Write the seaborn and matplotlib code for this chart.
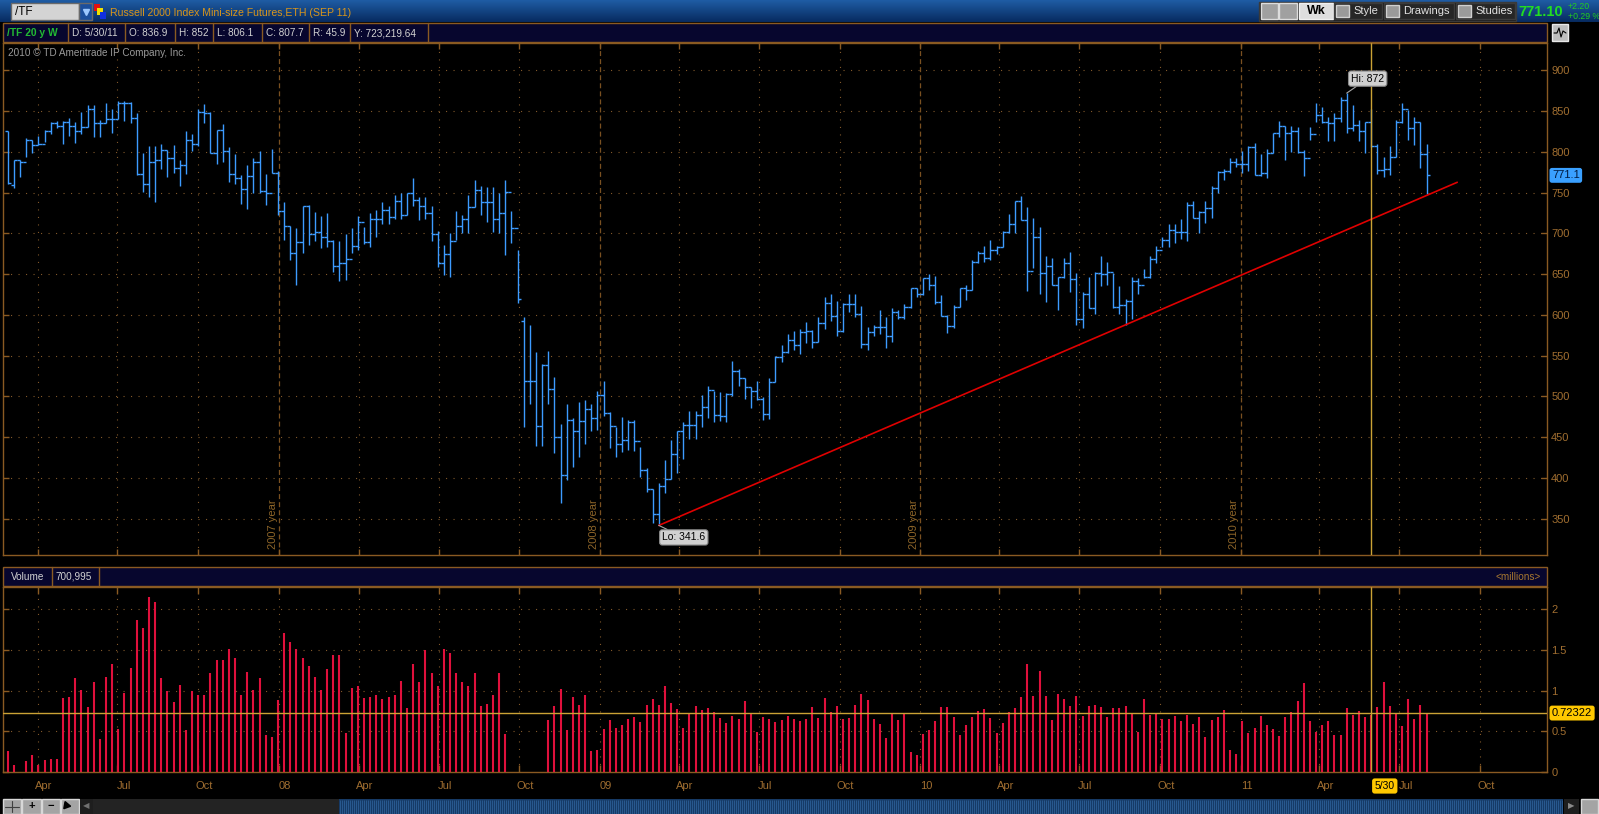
import numpy as np
import pandas as pd
import matplotlib
matplotlib.use("Agg")
import matplotlib.pyplot as plt
import matplotlib.dates as mdates
import matplotlib.transforms as mtransforms
from matplotlib.patches import Rectangle
import seaborn as sns

# ---------------- data (weekly bars, /TF Russell 2000 mini futures) ----------------
first_week = "2007-02-26"

highs = [825, 790, 790, 817, 815, 819, 827, 836, 838, 838,
         841, 837, 849, 858, 857, 839, 860, 853, 862, 862,
         861, 847, 798, 807, 807, 809, 802, 808, 790, 825,
         822, 853, 859, 849, 827, 834, 806, 797, 772, 784,
         792, 801, 773, 804, 777, 739, 709, 706, 734, 735,
         726, 721, 725, 692, 691, 699, 706, 721, 708, 725,
         729, 738, 733, 747, 749, 750, 768, 745, 744, 733,
         703, 686, 700, 727, 723, 747, 765, 758, 757, 757,
         750, 765, 727, 680, 597, 588, 554, 540, 555, 524,
         466, 491, 474, 493, 495, 490, 507, 519, 481, 462,
         475, 471, 471, 438, 412, 386, 394, 422, 446, 458,
         468, 482, 482, 502, 513, 506, 505, 504, 543, 533,
         522, 512, 519, 499, 523, 549, 563, 576, 580, 583,
         591, 581, 597, 622, 625, 617, 614, 625, 625, 611,
         585, 588, 606, 597, 608, 606, 613, 633, 633, 645,
         650, 648, 624, 600, 612, 633, 636, 667, 678, 684,
         692, 685, 703, 724, 740, 746, 732, 719, 708, 672,
         670, 647, 670, 677, 651, 628, 646, 653, 672, 665,
         651, 635, 619, 646, 645, 656, 672, 685, 696, 712,
         711, 717, 738, 740, 727, 740, 758, 777, 779, 792,
         792, 801, 807, 811, 797, 803, 823, 838, 832, 832,
         831, 802, 831, 860, 855, 843, 847, 867, 872, 858,
         839, 837, 852, 810, 794, 807, 839, 860, 851, 843,
         836, 810]

lows = [761, 755, 769, 794, 799, 808, 812, 822, 829, 810,
        819, 811, 822, 831, 818, 818, 835, 823, 840, 838,
        835, 772, 751, 745, 738, 779, 769, 774, 758, 773,
        801, 807, 835, 798, 785, 788, 763, 760, 736, 730,
        750, 750, 735, 774, 722, 692, 667, 637, 676, 686,
        690, 682, 683, 653, 642, 643, 676, 680, 687, 683,
        696, 712, 712, 718, 718, 723, 733, 716, 717, 691,
        659, 649, 647, 692, 700, 700, 732, 723, 714, 702,
        700, 673, 688, 614, 462, 490, 439, 439, 491, 430,
        369, 397, 413, 425, 441, 458, 459, 476, 437, 426,
        432, 434, 433, 401, 383, 345, 341.6, 381, 399, 406,
        423, 448, 448, 462, 474, 469, 470, 469, 500, 513,
        497, 486, 495, 471, 472, 517, 542, 553, 557, 552,
        565, 559, 567, 583, 593, 574, 579, 604, 597, 559,
        557, 574, 577, 559, 567, 595, 595, 608, 622, 624,
        631, 613, 598, 578, 584, 610, 618, 630, 663, 665,
        667, 675, 683, 700, 700, 716, 629, 658, 626, 616,
        636, 606, 645, 628, 587, 584, 608, 601, 635, 636,
        608, 601, 588, 595, 626, 645, 645, 663, 683, 683,
        688, 693, 691, 719, 700, 713, 719, 750, 765, 774,
        781, 774, 776, 771, 770, 768, 798, 818, 790, 800,
        799, 770, 815, 836, 835, 813, 813, 837, 823, 825,
        813, 799, 806, 773, 769, 771, 794, 835, 815, 808,
        780, 748]

closes = [762, 790, 787, 815, 808, 810, 826, 835, 832, 836,
          832, 826, 831, 853, 835, 835, 840, 840, 860, 860,
          841, 773, 760, 788, 790, 802, 792, 780, 784, 815,
          810, 849, 848, 798, 827, 801, 773, 768, 754, 770,
          787, 752, 750, 774, 727, 709, 676, 689, 733, 699,
          701, 695, 690, 660, 663, 669, 685, 714, 689, 717,
          718, 728, 720, 740, 723, 749, 741, 734, 725, 699,
          664, 674, 691, 709, 717, 732, 753, 738, 738, 718,
          725, 751, 707, 620, 519, 519, 464, 538, 509, 450,
          403, 471, 457, 470, 484, 473, 502, 480, 464, 441,
          446, 468, 445, 410, 386, 356, 390, 399, 429, 457,
          465, 465, 477, 487, 508, 477, 476, 503, 531, 523,
          511, 507, 497, 478, 518, 548, 554, 569, 563, 579,
          580, 567, 590, 615, 598, 580, 613, 613, 601, 564,
          579, 585, 585, 574, 604, 597, 610, 633, 625, 645,
          637, 616, 599, 586, 610, 633, 630, 665, 676, 670,
          679, 683, 702, 712, 740, 716, 654, 695, 651, 660,
          636, 646, 663, 644, 595, 625, 608, 651, 650, 652,
          609, 612, 617, 642, 637, 646, 668, 679, 692, 704,
          702, 702, 735, 719, 726, 731, 756, 775, 777, 788,
          785, 785, 806, 772, 774, 798, 823, 832, 823, 826,
          800, 793, 822, 845, 837, 835, 841, 864, 829, 833,
          826, 837, 807.7, 778, 779, 794, 837, 852, 829, 837,
          797, 771.1]

opens = [825, 759, 790, 787, 815, 808, 810, 826, 835, 832,
         836, 832, 826, 831, 853, 835, 835, 840, 840, 860,
         860, 841, 773, 760, 788, 790, 802, 792, 780, 784,
         815, 810, 849, 848, 798, 827, 801, 773, 768, 754,
         770, 787, 752, 750, 774, 727, 709, 676, 689, 733,
         699, 701, 695, 690, 660, 663, 669, 685, 714, 689,
         717, 718, 728, 720, 740, 723, 749, 741, 734, 725,
         699, 664, 674, 691, 709, 717, 732, 753, 738, 738,
         718, 725, 751, 707, 593, 519, 519, 464, 538, 509,
         450, 403, 471, 457, 470, 484, 473, 502, 480, 464,
         441, 446, 468, 445, 410, 386, 356, 390, 399, 429,
         457, 465, 465, 477, 487, 508, 477, 476, 503, 531,
         523, 511, 507, 497, 478, 518, 548, 554, 569, 563,
         579, 580, 567, 590, 615, 598, 580, 613, 613, 601,
         564, 579, 585, 585, 574, 604, 597, 610, 633, 625,
         645, 637, 616, 599, 586, 610, 633, 630, 665, 676,
         670, 679, 683, 702, 712, 740, 716, 654, 695, 651,
         660, 636, 646, 663, 644, 595, 625, 608, 651, 650,
         652, 609, 612, 617, 642, 637, 646, 668, 679, 692,
         704, 702, 702, 735, 719, 726, 731, 756, 775, 777,
         788, 785, 785, 806, 772, 774, 798, 823, 832, 823,
         826, 800, 793, 822, 845, 837, 835, 841, 864, 829,
         833, 826, 836.9, 807.7, 778, 779, 794, 837, 852, 829,
         837, 797]

# volume in millions (0 = no bar drawn)
volume = [0.26, 0.09, 0.0, 0.13, 0.21, 0.09, 0.15, 0.16, 0.16, 0.91,
          0.92, 1.15, 1.01, 0.80, 1.11, 0.41, 1.17, 1.32, 0.53, 0.97,
          1.27, 1.86, 1.77, 2.15, 2.08, 1.15, 1.00, 0.86, 1.07, 0.51,
          0.99, 0.95, 0.95, 1.22, 1.38, 1.37, 1.51, 1.40, 0.94, 1.23,
          1.01, 1.15, 0.46, 0.43, 0.88, 1.71, 1.60, 1.51, 1.40, 1.30,
          1.16, 1.01, 1.26, 1.43, 1.44, 0.48, 1.03, 1.06, 0.91, 0.92,
          0.95, 0.90, 0.92, 0.94, 1.12, 0.79, 1.33, 1.10, 1.50, 1.21,
          1.06, 1.51, 1.46, 1.21, 1.11, 1.05, 1.21, 0.81, 0.84, 0.94,
          1.21, 0.47,
          0.0, 0.0, 0.0, 0.0, 0.0, 0.0,
          0.64, 0.81, 1.02, 0.52, 0.92, 0.82, 0.94, 0.26, 0.27, 0.53,
          0.64, 0.54, 0.58, 0.65, 0.67, 0.61, 0.82, 0.89, 0.82, 1.05,
          0.85, 0.77, 0.54, 0.72, 0.81, 0.76, 0.78, 0.74, 0.66, 0.60,
          0.69, 0.65, 0.87, 0.71, 0.49, 0.67, 0.65, 0.61, 0.64, 0.69,
          0.65, 0.63, 0.65, 0.80, 0.66, 0.91, 0.74, 0.81, 0.65, 0.66,
          0.82, 0.96, 0.88, 0.65, 0.59, 0.42, 0.72, 0.64, 0.72, 0.25,
          0.21, 0.47, 0.52, 0.63, 0.80, 0.80, 0.67, 0.46, 0.58, 0.67,
          0.75, 0.77, 0.66, 0.48, 0.60, 0.74, 0.78, 0.92, 1.32, 0.93,
          1.24, 0.93,
          0.64, 0.96, 0.89, 0.81, 0.93, 0.69, 0.81, 0.82, 0.80, 0.68,
          0.78, 0.78, 0.81, 0.73, 0.49, 0.90, 0.70, 0.73, 0.65, 0.65,
          0.69, 0.63, 0.70, 0.59, 0.67, 0.43, 0.64, 0.67, 0.76, 0.27,
          0.22, 0.62, 0.48, 0.54, 0.69, 0.58, 0.53, 0.44, 0.67, 0.74,
          0.87, 1.09, 0.62, 0.49, 0.58, 0.62, 0.46, 0.46, 0.78, 0.70,
          0.75, 0.68, 0.70, 0.80, 1.11, 0.81, 0.71, 0.56, 0.89, 0.65,
          0.82, 0.73]

trend_dates = ["2009-03-09", "2011-09-05"]
trend_prices = [341.6, 762.6]

tick_months = ["2007-04-01", "2007-07-01", "2007-10-01", "2008-01-01",
               "2008-04-01", "2008-07-01", "2008-10-01", "2009-01-01",
               "2009-04-01", "2009-07-01", "2009-10-01", "2010-01-01",
               "2010-04-01", "2010-07-01", "2010-10-01", "2011-01-01",
               "2011-04-01", "2011-07-01", "2011-10-01"]
tick_labels = ["Apr", "Jul", "Oct", "08", "Apr", "Jul", "Oct", "09",
               "Apr", "Jul", "Oct", "10", "Apr", "Jul", "Oct", "11",
               "Apr", "Jul", "Oct"]
year_lines = ["2008-01-01", "2009-01-01", "2010-01-01", "2011-01-01"]
year_texts = ["2007 year", "2008 year", "2009 year", "2010 year"]
price_ticks = [350, 400, 450, 500, 550, 600, 650, 700, 750, 800, 850, 900]
vol_ticks = [0, 0.5, 1, 1.5, 2]
vol_tick_labels = ["0", "0.5", "1", "1.5", "2"]
cursor_date = "2011-05-30"
cursor_volume = 0.72322
last_price = 771.1

# ---------------- style ----------------
sns.set_style("dark", {"axes.facecolor": "black", "figure.facecolor": "black"})
plt.rcParams['font.family'] = ['Liberation Sans', 'DejaVu Sans']
plt.rcParams['lines.scale_dashes'] = False

BLUE = '#3d9bff'
RED = '#e0103c'
BROWN = '#8a5a22'
GRID = '#80582a'
TXT = '#a06e30'
YEL = '#cba235'
NAVY = '#07062e'
LT = '#d2d2d2'
DOT = (0, (0.8, 4.6))

W, H = 1599, 814
fig = plt.figure(figsize=(W / 100, H / 100), dpi=100, facecolor='black')


def fy(px):
    return 1 - px / H


ax_p = fig.add_axes([3 / W, fy(555), 1544 / W, 512 / H])
ax_v = fig.add_axes([3 / W, fy(772), 1544 / W, 185 / H])

n = min(len(highs), len(lows), len(closes), len(opens), len(volume))
dates = pd.date_range(first_week, periods=n, freq='W-MON')
x = mdates.date2num(dates)
hi = np.array(highs[:n], float)
lo = np.array(lows[:n], float)
cl = np.array(closes[:n], float)
op = np.array(opens[:n], float)
vol = np.array(volume[:n], float)

origin = mdates.date2num(pd.Timestamp("2008-01-01"))
xlim = (origin - 314.4, origin + 1445.3)
tick_x = mdates.date2num(pd.to_datetime(tick_months))
year_x = mdates.date2num(pd.to_datetime(year_lines))
cur_x = mdates.date2num(pd.Timestamp(cursor_date))

for ax in (ax_p, ax_v):
    ax.set_facecolor('black')
    for s in ax.spines.values():
        s.set_color(BROWN)
        s.set_linewidth(1.0)
        s.set_visible(True)
    ax.set_xlim(*xlim)
    ax.set_xticks(tick_x)
    ax.set_xticklabels([])
    ax.grid(False)

# ---------- price panel ----------
for p in price_ticks:
    ax_p.axhline(p, color=GRID, lw=0.8, ls=DOT, zorder=0)
for tx in tick_x:
    if any(abs(tx - yx) < 1 for yx in year_x):
        ax_p.axvline(tx, color='#7a5020', lw=0.9, ls=(0, (3.6, 2.2)), zorder=0)
    else:
        ax_p.axvline(tx, color=GRID, lw=0.8, ls=DOT, zorder=0)

blend_p = mtransforms.blended_transform_factory(ax_p.transData, ax_p.transAxes)
for yx, t in zip(year_x, year_texts):
    ax_p.text(yx - 1.5, 0.012, t, rotation=90, ha='right', va='bottom',
              transform=blend_p, color='#8c6428', fontsize=8)

tick_len = 3.5
ax_p.vlines(x, lo, hi, color=BLUE, lw=1.0, zorder=3)
ax_p.hlines(op, x - tick_len, x, color=BLUE, lw=1.0, zorder=3)
ax_p.hlines(cl, x, x + tick_len, color=BLUE, lw=1.0, zorder=3)

trend = pd.DataFrame({"date": mdates.date2num(pd.to_datetime(trend_dates)),
                      "price": trend_prices})
sns.lineplot(data=trend, x="date", y="price", ax=ax_p, color='#e00000', lw=1.2, zorder=4)
ax_p.set_xlabel('')
ax_p.set_ylabel('')

ax_p.axvline(cur_x, color=YEL, lw=1.0, zorder=5)

ax_p.set_ylim(305.3, 933.5)
ax_p.set_xlim(*xlim)
ax_p.set_yticks(price_ticks)
ax_p.set_yticklabels([str(p) for p in price_ticks])
ax_p.yaxis.set_ticks_position('both')
ax_p.tick_params(axis='y', direction='in', length=4, width=1, colors=BROWN,
                 labelleft=False, labelright=True, labelsize=8, labelcolor=TXT, pad=3)
ax_p.tick_params(axis='x', direction='in', length=4, width=1, colors=BROWN,
                 top=True, bottom=True, labelbottom=False)

ih = int(np.argmax(hi))
il = int(np.argmin(lo))
ax_p.annotate(f"Hi: {hi[ih]:g}", xy=(x[ih], hi[ih]), xytext=(21, 14.5),
              textcoords='offset pixels', ha='center', va='center', fontsize=7.5,
              color='black', zorder=8,
              bbox=dict(boxstyle='round,pad=0.25', fc='#d0d0d0', ec='#8a8a8a', lw=0.8),
              arrowprops=dict(arrowstyle='-', color='#a8a8a8', lw=0.8, shrinkA=0, shrinkB=0))
ax_p.annotate(f"Lo: {lo[il]:g}", xy=(x[il], lo[il]), xytext=(25, -12),
              textcoords='offset pixels', ha='center', va='center', fontsize=7.5,
              color='black', zorder=8, annotation_clip=False,
              bbox=dict(boxstyle='round,pad=0.25', fc='#d0d0d0', ec='#8a8a8a', lw=0.8),
              arrowprops=dict(arrowstyle='-', color='#a8a8a8', lw=0.8, shrinkA=0, shrinkB=0))

ax_p.text(1.0032, last_price, f"{last_price:g}", transform=mtransforms.blended_transform_factory(
    ax_p.transAxes, ax_p.transData), ha='left', va='center', fontsize=8, color='#001a40',
    bbox=dict(boxstyle='round,pad=0.22', fc='#3aa0ff', ec='none'), clip_on=False, zorder=9)

# ---------- volume panel ----------
for v in vol_ticks[1:]:
    ax_v.axhline(v, color=GRID, lw=0.8, ls=DOT, zorder=0)
for tx in tick_x:
    ax_v.axvline(tx, color=GRID, lw=0.8, ls=DOT, zorder=0)

m = vol > 0
ax_v.vlines(x[m], 0, vol[m], color=RED, lw=1.5, zorder=3)
ax_v.axhline(cursor_volume, color=YEL, lw=1.0, zorder=4)
ax_v.axvline(cur_x, color=YEL, lw=1.0, zorder=4)

ax_v.set_ylim(0, 2.27)
ax_v.set_xlim(*xlim)
ax_v.set_yticks(vol_ticks)
ax_v.set_yticklabels(vol_tick_labels)
ax_v.yaxis.set_ticks_position('both')
ax_v.tick_params(axis='y', direction='in', length=4, width=1, colors=BROWN,
                 labelleft=False, labelright=True, labelsize=8, labelcolor=TXT, pad=3)
ax_v.tick_params(axis='x', direction='in', length=5, width=1, colors=BROWN,
                 top=True, bottom=True, labelbottom=False)

blend_v = mtransforms.blended_transform_factory(ax_v.transData, ax_v.transAxes)
for tx, lab in zip(tick_x, tick_labels):
    ax_v.text(tx + 7, -0.0757, lab, transform=blend_v, ha='center', va='center',
              fontsize=8, color=TXT, clip_on=False)
ax_v.text(cur_x + 15.4, -0.0757, cursor_date[5:7].lstrip('0') + "/" + cursor_date[8:10],
          transform=blend_v, ha='center', va='center', fontsize=7.5, color='black',
          bbox=dict(boxstyle='round,pad=0.25', fc='#ffc800', ec='none'), clip_on=False, zorder=9)
ax_v.text(1.0032, cursor_volume, f"{cursor_volume:.5f}", transform=mtransforms.blended_transform_factory(
    ax_v.transAxes, ax_v.transData), ha='left', va='center', fontsize=8, color='black',
    bbox=dict(boxstyle='round,pad=0.22', fc='#ffc800', ec='none'), clip_on=False, zorder=9)

# ---------------- UI chrome (pixel space overlay) ----------------
ui = fig.add_axes([0, 0, 1, 1], zorder=10)
ui.patch.set_alpha(0)
ui.axis('off')


def box(x0, y0, x1, y1, fc, ec='none', lw=1.0, z=1):
    ui.add_patch(Rectangle((x0, y0), x1 - x0, y1 - y0, facecolor=fc, edgecolor=ec, lw=lw, zorder=z))


def txt(xx, yy, s, **kw):
    kw.setdefault('va', 'center')
    kw.setdefault('fontsize', 7.2)
    kw.setdefault('color', LT)
    ui.text(xx, yy, s, **kw)


grad = np.linspace(0, 1, 22)[:, None, None]
top_c = np.array([0.12, 0.36, 0.64])
bot_c = np.array([0.03, 0.17, 0.38])
img = top_c * (1 - grad) + bot_c * grad
img = np.repeat(img, 2, axis=1)
ui.imshow(img, extent=[0, W, 22, 0], aspect='auto', zorder=0, interpolation='bilinear')

# ticker box
box(11, 3, 79, 20, '#d4d4d4', '#6a6a6a')
txt(15, 11.8, "/TF", fontsize=8.5, color='black')
box(79, 3, 92, 20, '#1c4f9c', '#6a6a6a')
ui.plot([85.5], [12], marker='v', ms=5, color='#9cc8ff', zorder=3)
box(94, 4, 100, 11, '#e01010', z=2)
box(97, 8, 103, 15, '#f0e000', z=3)
box(100, 12, 106, 19, '#1030e0', z=4)
txt(110, 12.5, "Russell 2000 Index Mini-size Futures,ETH (SEP 11)", color='#d8951c', fontsize=7.6)

# right toolbar
box(1259, 2, 1516, 21, '#1a1a1a', '#3a3a3a')
box(1261, 3, 1278, 19, '#a0a0a0', '#dddddd')
box(1279, 3, 1297, 19, '#a0a0a0', '#dddddd')
box(1299, 3, 1333, 19, '#dedede', '#f0f0f0')
txt(1316, 11.5, "Wk", ha='center', color='black', fontsize=9, fontweight='bold')
for (a, b, label) in [(1334, 1382, "Style"), (1384, 1454, "Drawings"), (1456, 1515, "Studies")]:
    box(a, 3, b, 19, '#262626', '#3c3c3c')
    box(a + 2, 5, a + 15, 17, '#9a9a9a', '#d0d0d0', z=2)
    txt(a + 19, 11.5, label, fontsize=8, color='#e2e2e2')
txt(1518, 12, f"{last_price:.2f}", color='#22dd22', fontsize=10.5, fontweight='bold')
txt(1568, 6.5, "+2.20", color='#22cc22', fontsize=6.3)
txt(1568, 16.5, "+0.29 %", color='#22cc22', fontsize=6.3)

# info header row
box(3, 23, 1547, 42, NAVY, BROWN)
for sx in [68, 125, 175, 213, 262, 309, 350, 428]:
    ui.plot([sx, sx], [23, 42], color=BROWN, lw=1, zorder=2)
txt(7, 33, "/TF 20 y W", color='#22bb33', fontweight='bold', fontsize=7.4)
for xx, s in [(72, "D: 5/30/11"), (129, "O: 836.9"), (179, "H: 852"), (217, "L: 806.1"),
              (266, "C: 807.7"), (313, "R: 45.9"), (354, "Y: 723,219.64")]:
    txt(xx, 33, s)
box(1552, 24, 1568, 41, '#bdbdbd', '#e8e8e8')
ui.plot([1554, 1557, 1559, 1561, 1563, 1566], [33, 33, 28, 37, 31, 33], color='black', lw=0.8, zorder=3)
txt(8, 53, "2010 \u00a9 TD Ameritrade IP Company, Inc.", color='#9a9a9a', fontsize=7.2)

# volume header
box(3, 567, 1547, 586, NAVY, BROWN)
for sx in [52, 99]:
    ui.plot([sx, sx], [567, 586], color=BROWN, lw=1, zorder=2)
txt(11, 576.5, "Volume")
txt(56, 576.5, "700,995")
txt(1541, 576.5, "<millions>", ha='right', color='#a87830')

# bottom scroll bar
for a, b in [(3, 21), (22, 41), (42, 60), (61, 79)]:
    box(a, 799, b, 814, '#a4a4a4', '#d8d8d8')
ui.plot([12, 12], [801, 812], color='#404040', lw=0.8, zorder=3)
ui.plot([5, 19], [806.5, 806.5], color='#404040', lw=0.8, zorder=3)
txt(31.5, 806.5, "+", ha='center', color='black', fontsize=8, fontweight='bold')
txt(51, 806.5, "\u2212", ha='center', color='black', fontsize=8, fontweight='bold')
ui.plot([66], [805], marker=(3, 0, 20), ms=6, color='black', zorder=3)
box(80, 799, 93, 814, '#1e1e1e')
txt(86.5, 806.5, "\u25c0", ha='center', color='#707070', fontsize=6)
box(93, 799, 339, 814, '#232323')
box(339, 799, 1563, 814, '#163a66')
ui.vlines(np.arange(340, 1563, 2.0), 800, 814, color='#2c5e96', lw=0.6, zorder=2)
box(1564, 799, 1579, 814, '#1e1e1e')
txt(1571.5, 806.5, "\u25b6", ha='center', color='#8a8a8a', fontsize=6)
box(1581, 799, 1598, 814, '#a4a4a4', '#d8d8d8')

ui.set_xlim(0, W)
ui.set_ylim(H, 0)

fig.savefig("out.png", dpi=100, facecolor='black')
